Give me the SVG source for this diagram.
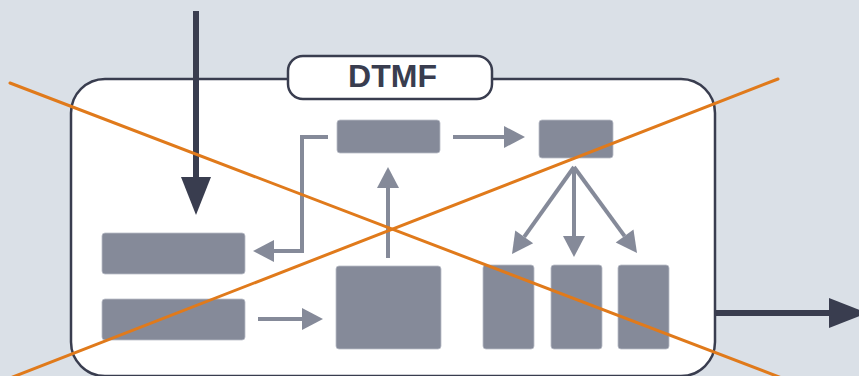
<svg xmlns="http://www.w3.org/2000/svg" width="859" height="376" viewBox="0 0 859 376">
  <style>
    .blk { fill: #858a99; stroke: #b9bcc6; stroke-width: 0.8; }
    .garr { fill: none; stroke: #858a99; stroke-width: 4; marker-end: url(#gh); }
    .darr { fill: none; stroke: #393d4f; stroke-width: 6; marker-end: url(#dh); }
    .cross { stroke: #e07a1b; stroke-width: 3; stroke-linecap: round; }
    .title { font-family: "Liberation Sans", Arial, sans-serif; font-weight: bold; font-size: 32px; fill: #393d4f; }
  </style>
  <defs>
    <marker id="gh" markerUnits="userSpaceOnUse" viewBox="0 -11 21 22" refX="0" refY="0" markerWidth="21" markerHeight="22" orient="auto" overflow="visible">
      <path d="M0,-11 L21,0 L0,11 z" fill="#858a99"/>
    </marker>
    <marker id="dh" markerUnits="userSpaceOnUse" viewBox="0 -15 38 30" refX="0" refY="0" markerWidth="38" markerHeight="30" orient="auto" overflow="visible">
      <path d="M0,-15 L38,0 L0,15 z" fill="#393d4f"/>
    </marker>
  </defs>
  <rect x="0" y="0" width="859" height="376" fill="#dae0e7"/>

  <g id="dtmf-frame">
    <rect x="71" y="79" width="644" height="297" rx="34" fill="#ffffff" stroke="#393d4f" stroke-width="2.5"/>
    <rect x="288" y="56" width="204" height="43" rx="15" fill="#ffffff" stroke="#393d4f" stroke-width="2.5"/>
    <text class="title" x="392.5" y="87" text-anchor="middle">DTMF</text>
  </g>

  <g id="block-a"><rect class="blk" x="337" y="120" width="103" height="33" rx="3"/></g>
  <g id="block-b"><rect class="blk" x="539" y="120" width="74" height="38" rx="3"/></g>
  <g id="block-c"><rect class="blk" x="102" y="233" width="143" height="41" rx="3"/></g>
  <g id="block-d"><rect class="blk" x="102" y="299" width="143" height="41" rx="3"/></g>
  <g id="block-e"><rect class="blk" x="336" y="266" width="105" height="83" rx="3"/></g>
  <g id="block-f"><rect class="blk" x="483" y="265" width="51" height="84" rx="3"/></g>
  <g id="block-g"><rect class="blk" x="551" y="265" width="51" height="84" rx="3"/></g>
  <g id="block-h"><rect class="blk" x="618" y="265" width="51" height="84" rx="3"/></g>

  <g id="connectors">
    <line class="garr" x1="453" y1="137" x2="504" y2="137"/>
    <line class="garr" x1="388" y1="258" x2="388" y2="188"/>
    <polyline class="garr" points="328,137 302,137 302,251 274,251"/>
    <line class="garr" x1="258" y1="319" x2="302" y2="319"/>
    <line class="garr" x1="574" y1="167" x2="574" y2="236"/>
    <line class="garr" x1="574" y1="167" x2="524.2" y2="236.9"/>
    <line class="garr" x1="574" y1="167" x2="624.6" y2="236.1"/>
    <line class="darr" x1="196" y1="11" x2="196" y2="177"/>
    <line class="darr" x1="715" y1="313" x2="829" y2="313"/>
  </g>

  <g id="cross-out">
    <line class="cross" x1="10" y1="83" x2="787" y2="380"/>
    <line class="cross" x1="5" y1="380" x2="778" y2="79"/>
  </g>
</svg>
